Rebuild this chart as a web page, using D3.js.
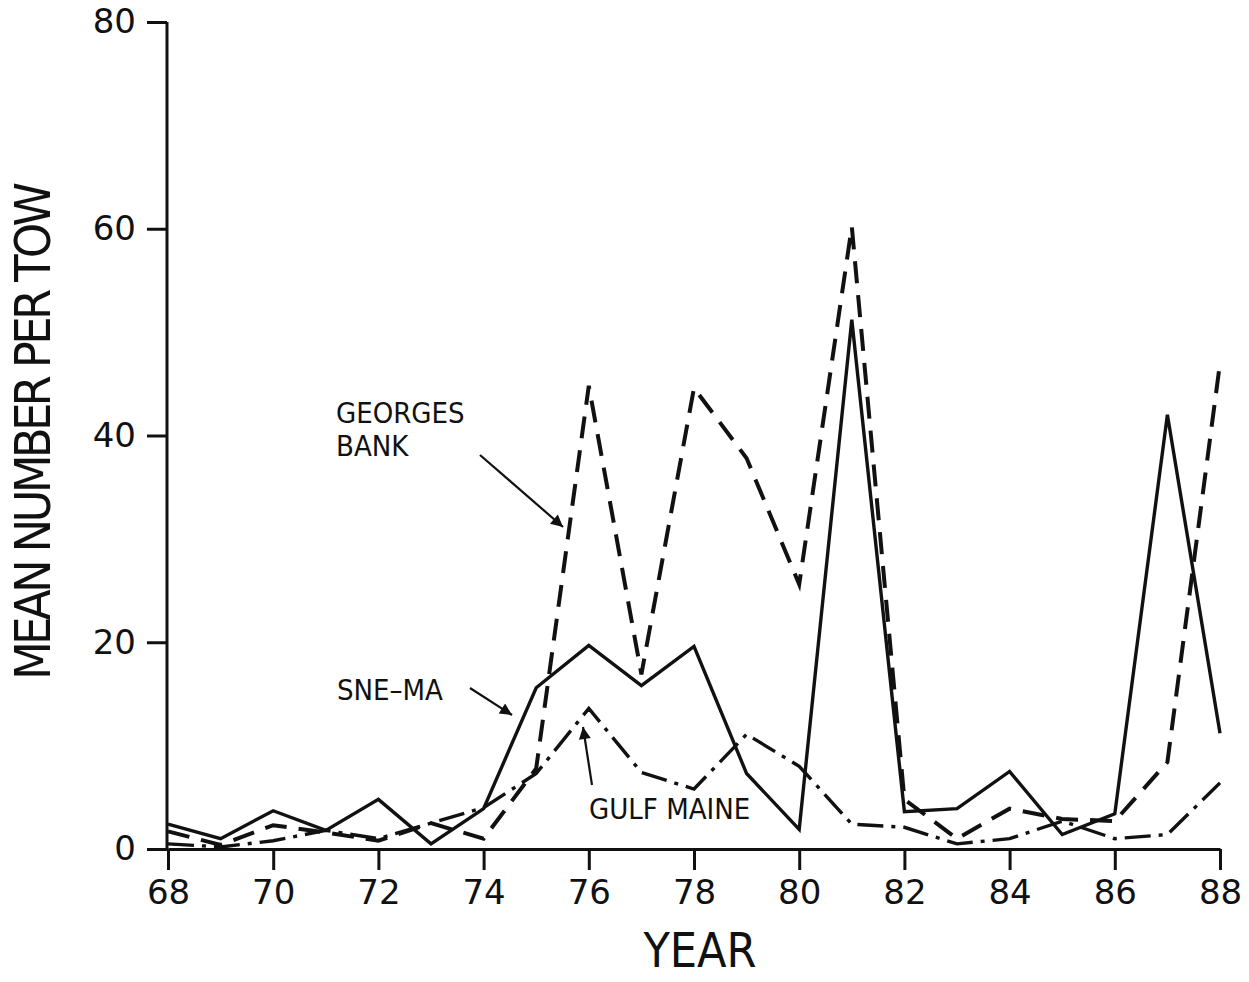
<!DOCTYPE html>
<html lang="en">
<head>
    <meta charset="UTF-8">
    <title>Mean number per tow</title>
    <script src="https://d3js.org/d3.v7.min.js"></script>
</head>
<body style="margin:0;background:#fff">
<svg width="1249" height="982"></svg>
<style>
    text { font-family: "DejaVu Sans Condensed", "DejaVu Sans", sans-serif; fill: #111; }
    .axis path, .axis line { stroke: #111; stroke-width: 3px; }
    .series { fill: none; stroke: #111; stroke-linejoin: miter; }
</style>
<script>
    // values
    var years = [68, 69, 70, 71, 72, 73, 74, 75, 76, 77, 78, 79, 80, 81, 82, 83, 84, 85, 86, 87, 88];
    var sneMa = [2.4, 1.0, 3.7, 1.8, 4.8, 0.5, 3.9, 15.6, 19.7, 15.8, 19.6, 7.3, 1.9, 51.2, 3.6, 3.9, 7.5, 1.4, 3.4, 42.0, 11.2];
    var georgesBank = [1.7, 0.4, 2.3, 1.6, 0.8, 2.5, 1.0, 7.8, 44.8, 16.9, 44.6, 37.8, 25.6, 60.2, 4.8, 1.0, 3.9, 2.9, 2.7, 8.4, 47.0];
    var gulfMaine = [0.5, 0.2, 0.8, 1.8, 1.0, 2.5, 4.0, 7.3, 13.6, 7.4, 5.8, 11.1, 8.0, 2.4, 2.1, 0.5, 1.0, 2.7, 1.0, 1.4, 6.4];
    var xTicks = [68, 70, 72, 74, 76, 78, 80, 82, 84, 86, 88];
    var yTicks = [0, 20, 40, 60, 80];

    var svg = d3.select("svg");
    var x = d3.scaleLinear().domain([68, 88]).range([168, 1220]);
    var y = d3.scaleLinear().domain([0, 80]).range([849, 22]);

    // axes
    var xAxis = svg.append("g").attr("class", "axis")
        .attr("transform", "translate(0,849)")
        .call(d3.axisBottom(x).tickValues(xTicks).tickSize(21).tickSizeOuter(0).tickPadding(10));
    xAxis.selectAll("text").style("font-size", "34px").style("font-family", "DejaVu Sans, sans-serif");

    var yAxis = svg.append("g").attr("class", "axis")
        .attr("transform", "translate(167,0)")
        .call(d3.axisLeft(y).tickValues(yTicks).tickSize(20).tickSizeOuter(0).tickPadding(11));
    yAxis.selectAll("text").style("font-size", "34px").style("font-family", "DejaVu Sans, sans-serif");
    yAxis.select(".domain").attr("d", "M0," + y(80) + "V" + y(0));

    // lines
    var line = d3.line()
        .x(function (d) { return x(d[0]); })
        .y(function (d) { return y(d[1]); });

    var series = [
        {vals: sneMa, dash: null, width: 3.4},
        {vals: georgesBank, dash: "22,12", width: 4},
        {vals: gulfMaine, dash: "26,8,4,8", width: 3.4}
    ];
    series.forEach(function (s) {
        svg.append("path")
            .attr("class", "series")
            .attr("d", line(years.map(function (yr, i) { return [yr, s.vals[i]]; })))
            .style("stroke-width", s.width + "px")
            .style("stroke-dasharray", s.dash);
    });

    // annotations
    svg.append("defs").append("marker")
        .attr("id", "head")
        .attr("viewBox", "0 0 10 10")
        .attr("refX", 10).attr("refY", 5)
        .attr("markerWidth", 20).attr("markerHeight", 12)
        .attr("markerUnits", "userSpaceOnUse")
        .attr("orient", "auto")
        .append("path").attr("d", "M0,0L10,5L0,10z").attr("fill", "#111");

    var arrows = [
        [480, 455, 563, 527],
        [470, 688, 512, 715],
        [592, 785, 583, 727]
    ];
    svg.selectAll("line.arrow").data(arrows).enter().append("line")
        .attr("class", "arrow")
        .attr("x1", d => d[0]).attr("y1", d => d[1])
        .attr("x2", d => d[2]).attr("y2", d => d[3])
        .attr("stroke", "#111").attr("stroke-width", 2.2)
        .attr("marker-end", "url(#head)");

    var labels = [
        {t: "GEORGES", x: 336, y: 423},
        {t: "BANK", x: 336, y: 456},
        {t: "SNE\u2013MA", x: 337, y: 700},
        {t: "GULF MAINE", x: 589, y: 819}
    ];
    svg.selectAll("text.lab").data(labels).enter().append("text")
        .attr("class", "lab")
        .attr("x", d => d.x).attr("y", d => d.y)
        .style("font-size", "29px")
        .text(d => d.t);

    // axis titles
    svg.append("text")
        .attr("x", 700).attr("y", 967)
        .attr("text-anchor", "middle")
        .style("font-size", "48px")
        .text("YEAR");

    svg.append("text")
        .attr("transform", "translate(50,431) rotate(-90)")
        .attr("text-anchor", "middle")
        .attr("textLength", 498)
        .style("font-size", "50px")
        .text("MEAN NUMBER PER TOW");
</script>
</body>
</html>
